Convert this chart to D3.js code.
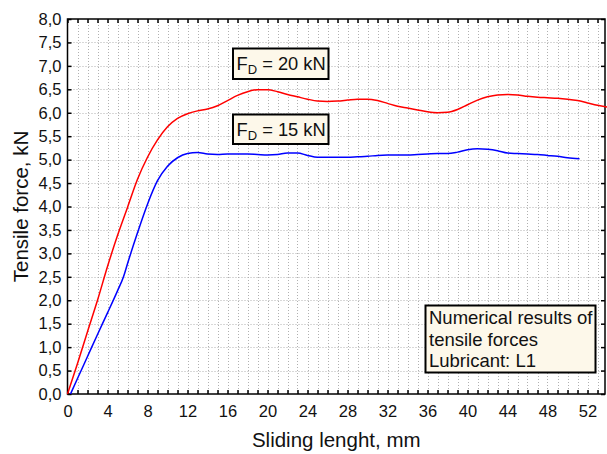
<!DOCTYPE html>
<html>
<head>
<meta charset="utf-8">
<script src="https://cdn.jsdelivr.net/npm/d3@7"></script>
<style>
  html, body { margin: 0; padding: 0; background: #fff; }
  svg { display: block; font-family: Arial, "Liberation Sans", sans-serif; }
</style>
</head>
<body>
<svg id="chart" width="607" height="454"></svg>
<script>
// ---- data ----
const redX = [0,1,2,3,4,5,6,7,8,9,10,11,12,13,14,15,16,17,18,19,20,21,22,23,24,25,26,27,28,29,30,31,32,33,34,35,36,37,38,39,40,41,42,43,44,45,46,47,48,49,50,51,52,53,54];
const redY = [0,0.65,1.33,2.0,2.72,3.38,3.98,4.58,5.05,5.42,5.70,5.88,5.98,6.04,6.08,6.15,6.26,6.37,6.45,6.49,6.49,6.45,6.39,6.34,6.29,6.25,6.24,6.25,6.27,6.29,6.29,6.26,6.20,6.14,6.10,6.06,6.02,6.00,6.01,6.07,6.17,6.27,6.34,6.38,6.39,6.38,6.35,6.33,6.32,6.31,6.29,6.26,6.21,6.16,6.12];
const blueX = [0.3,1,2,3,4,5,5.6,6,7,8,9,10,11,12,13,14,15,16,17,18,19,20,21,22,23,24,25,26,27,28,29,30,31,32,33,34,35,36,37,38,39,40,41,42,43,44,45,46,47,48,49,50,51.2];
const blueY = [0,0.33,0.8,1.27,1.73,2.2,2.5,2.78,3.44,4.05,4.55,4.86,5.04,5.13,5.15,5.12,5.11,5.12,5.12,5.12,5.11,5.10,5.11,5.14,5.14,5.09,5.05,5.05,5.05,5.05,5.06,5.07,5.09,5.10,5.10,5.10,5.11,5.12,5.13,5.13,5.16,5.21,5.23,5.22,5.19,5.14,5.13,5.12,5.11,5.09,5.07,5.04,5.02];
const xTickLabels = [0,4,8,12,16,20,24,28,32,36,40,44,48,52];
const yTickLabels = [0,0.5,1,1.5,2,2.5,3,3.5,4,4.5,5,5.5,6,6.5,7,7.5,8];
const seriesLabels = ["20", "15"];
const legendLines = ["Numerical results of", "tensile forces", "Lubricant: L1"];
const xTitle = "Sliding lenght, mm";
const yTitle = "Tensile force, kN";

// ---- layout ----
const L = 67.5, R = 605, T = 19, B = 394;
const svg = d3.select("#chart");
const x = d3.scaleLinear().domain([0, 53.75]).range([L, R]);
const y = d3.scaleLinear().domain([0, 8]).range([B, T]);
const fmt = v => d3.format(".1f")(v).replace(".", ",");

// grid
const grid = svg.append("g").attr("stroke", "#b0b0b0").attr("stroke-width", 1).attr("stroke-dasharray", "1,2");
grid.selectAll("line.v").data(d3.range(1, 54)).join("line")
  .attr("x1", d => Math.round(x(d)) + 0.5).attr("x2", d => Math.round(x(d)) + 0.5)
  .attr("y1", T).attr("y2", B);
grid.selectAll("line.h").data(yTickLabels.filter(v => v > 0 && v < 8)).join("line")
  .attr("y1", d => Math.round(y(d)) + 0.5).attr("y2", d => Math.round(y(d)) + 0.5)
  .attr("x1", L).attr("x2", R);

// inward ticks
const tickStyle = g => { g.select(".domain").remove(); g.selectAll("line").attr("stroke", "#000").attr("stroke-width", 1.5); };
svg.append("g").attr("transform", `translate(0,${B})`)
  .call(d3.axisBottom(x).tickValues(d3.range(0, 54)).tickSize(-4).tickFormat("")).call(tickStyle);
svg.append("g").attr("transform", `translate(0,${T})`)
  .call(d3.axisTop(x).tickValues(d3.range(0, 54)).tickSize(-4).tickFormat("")).call(tickStyle);
svg.append("g").attr("transform", `translate(${L},0)`)
  .call(d3.axisLeft(y).tickValues(yTickLabels).tickSize(-4).tickFormat("")).call(tickStyle);
svg.append("g").attr("transform", `translate(${R},0)`)
  .call(d3.axisRight(y).tickValues(yTickLabels).tickSize(-4).tickFormat("")).call(tickStyle);

// tick labels
const xl = svg.append("g").attr("transform", `translate(0,${B})`)
  .call(d3.axisBottom(x).tickValues(xTickLabels).tickSize(0).tickPadding(11).tickFormat(d3.format("d")));
xl.select(".domain").remove();
xl.selectAll("text").attr("font-size", 16.5).attr("fill", "#111").attr("font-family", "Arial, 'Liberation Sans', sans-serif");
const yl = svg.append("g").attr("transform", `translate(${L},0)`)
  .call(d3.axisLeft(y).tickValues(yTickLabels).tickSize(0).tickPadding(6).tickFormat(fmt));
yl.select(".domain").remove();
yl.selectAll("text").attr("font-size", 16.5).attr("fill", "#111").attr("font-family", "Arial, 'Liberation Sans', sans-serif");

// frame
svg.append("rect").attr("x", L).attr("y", T).attr("width", R - L).attr("height", B - T)
  .attr("fill", "none").attr("stroke", "#000").attr("stroke-width", 1.5);

// lines
const line = d3.line().x(d => x(d[0])).y(d => y(d[1])).curve(d3.curveMonotoneX);
svg.append("path").datum(redX.map((v, i) => [v, redY[i]]))
  .attr("d", line).attr("fill", "none").attr("stroke", "#ff0000").attr("stroke-width", 1.5);
svg.append("path").datum(blueX.map((v, i) => [v, blueY[i]]))
  .attr("d", line).attr("fill", "none").attr("stroke", "#0000ff").attr("stroke-width", 1.5);

// F_D boxes
const boxes = [{lab: seriesLabels[0], y0: 48.5, y1: 79}, {lab: seriesLabels[1], y0: 114.5, y1: 144}];
boxes.forEach(b => {
  svg.append("rect").attr("x", 233).attr("y", b.y0).attr("width", 95.5).attr("height", b.y1 - b.y0)
    .attr("fill", "#fdf8ea").attr("stroke", "#000").attr("stroke-width", 2);
  const t = svg.append("text").attr("x", 236.5).attr("y", b.y0 + 21.5).attr("font-size", 18.3).attr("fill", "#111");
  t.append("tspan").text("F");
  t.append("tspan").attr("font-size", 13).attr("dy", 4).text("D");
  t.append("tspan").attr("dy", -4).text(" = " + b.lab + " kN");
});

// legend box
svg.append("rect").attr("x", 425.5).attr("y", 305.5).attr("width", 170).attr("height", 67)
  .attr("fill", "#fdf8ea").attr("stroke", "#000").attr("stroke-width", 2);
legendLines.forEach((s, i) => {
  svg.append("text").attr("x", 429).attr("y", 324 + i * 21.7).attr("font-size", 18.5).attr("fill", "#111").text(s);
});

// axis titles
svg.append("text").attr("x", (L + R) / 2).attr("y", 447).attr("text-anchor", "middle")
  .attr("font-size", 20.5).attr("fill", "#111").text(xTitle);
svg.append("text").attr("transform", `translate(28,${(T + B) / 2}) rotate(-90)`).attr("text-anchor", "middle")
  .attr("font-size", 20.5).attr("fill", "#111").text(yTitle);
</script>
</body>
</html>
